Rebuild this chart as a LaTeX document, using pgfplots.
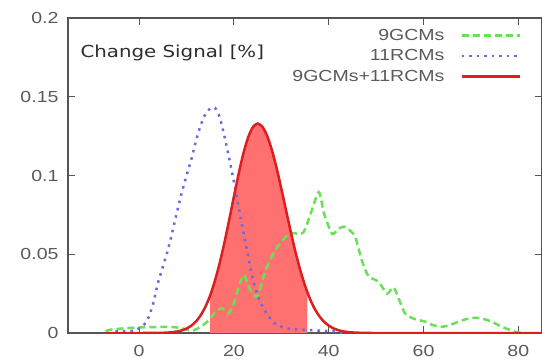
\documentclass[border=0pt]{standalone}
\usepackage{fontspec}
\setmainfont[FakeStretch=1.22]{Liberation Sans}
\newfontfamily\titlefont[FakeStretch=1.2]{DejaVu Sans}
\usepackage{pgfplots}
\pgfplotsset{compat=1.18}
\definecolor{gcm}{RGB}{105,225,85}
\definecolor{rcm}{RGB}{105,105,225}
\definecolor{comb}{RGB}{220,30,30}
\definecolor{combfill}{RGB}{255,112,112}
\definecolor{axisgray}{RGB}{85,85,85}
\definecolor{labelgray}{RGB}{90,90,90}
\definecolor{titlegray}{RGB}{45,45,45}
\begin{document}
\begin{tikzpicture}
\begin{axis}[
  width=474pt, height=315pt, scale only axis,
  xmin=-15, xmax=85, ymin=0, ymax=0.2,
  xtick={0,20,40,60,80},
  ytick={0,0.05,0.1,0.15,0.2},
  yticklabels={0,0.05,0.1,0.15,0.2},
  scaled y ticks=false,
  /pgf/number format/assume math mode=true,
  tick align=inside, major tick length=7pt,
  axis line style={draw=axisgray, line width=1.8pt},
  tick style={draw=axisgray, line width=1pt},
  ticklabel style={font=\fontsize{16}{19}\selectfont, text=labelgray},
  xticklabel style={yshift=-9pt},
  yticklabel style={xshift=-6pt},
  legend plot pos=right,
  legend cell align=right,
  legend image code/.code={\draw[#1] (0pt,0pt) -- (58pt,0pt);},
  legend style={at={(rel axis cs:0.956,0.972)}, anchor=north east, draw=none, fill=none,
    font=\fontsize{16}{19}\selectfont, text=labelgray, inner sep=0pt, row sep=4pt,
    column sep=14pt},
]
% shaded interval
\addplot[draw=none, fill=combfill, forget plot] coordinates {
 (15,0) (15,0.0239) (16,0.0332) (17,0.0444) (18,0.0574) (19,0.0717) (20,0.0866)
 (21,0.1011) (22,0.1140) (23,0.1242) (24,0.1307) (25,0.1330) (26,0.1310) (27,0.1253)
 (28,0.1163) (29,0.1049) (30,0.0917) (31,0.0779) (32,0.0642) (33,0.0514) (34,0.0399)
 (35,0.0301) (35.5,0.026) (35.5,0)
} -- cycle;
% 9GCMs
\addplot[gcm, line width=2.5pt, dash pattern=on 7pt off 4pt, smooth, tension=0.4] coordinates {
 (-7,0.001) (-6.3,0.002) (-3,0.003) (0.7,0.0036) (4,0.0038) (7,0.0038) (9,0.003)
 (11.2,0.0015) (13,0.004) (14.7,0.008) (16,0.013) (17.5,0.0157) (18.9,0.0125)
 (20,0.019) (21,0.029) (22.1,0.037) (23.5,0.027) (24.9,0.023) (25.8,0.031)
 (26.7,0.040) (28.8,0.053) (31.6,0.063) (33.7,0.063) (34.7,0.064) (36,0.074)
 (37.9,0.0895) (39,0.076) (40.7,0.063) (42,0.066) (43.2,0.0675) (44.5,0.065)
 (45.6,0.061) (47,0.046) (48.4,0.036) (50.5,0.0326) (52.3,0.025) (53.7,0.029)
 (55,0.020) (56.1,0.0125) (58,0.009) (60.4,0.0072) (62,0.005) (63.9,0.004)
 (65.5,0.005) (67.4,0.0072) (69,0.0088) (70.9,0.0097) (72.5,0.009) (74.4,0.0072)
 (76.5,0.004) (79.3,0.0008) (81,0.0)
};
\addlegendentry{9GCMs}
% 11RCMs
\addplot[rcm, line width=2.5pt, dash pattern=on 2.5pt off 5pt, smooth, tension=0.4] coordinates {
 (-5,0.001) (-3,0.0012) (-1,0.0015) (0,0.003) (1,0.005) (2,0.01) (3,0.019) (4,0.032)
 (5,0.042) (6,0.052) (7,0.064) (8,0.077) (9,0.089) (10,0.100) (11,0.110) (12,0.122)
 (13,0.132) (14,0.139) (15,0.1425) (16,0.143) (17,0.137) (18,0.125) (19,0.111)
 (20,0.096) (21,0.080) (22,0.064) (23,0.049) (24,0.034) (25,0.024) (26,0.017)
 (27,0.012) (28,0.008) (29,0.005) (30,0.004) (32,0.0025) (35,0.002) (38,0.0015)
 (41,0.001) (43,0)
};
\addlegendentry{11RCMs}
% 9GCMs+11RCMs
\addplot[comb, line width=2.5pt, smooth, tension=0.4] coordinates {
 (-7,0) (0,0) (3,0.00003) (5,0.00014) (6,0.00027) (7,0.00051) (8,0.00094) (9,0.00165)
 (10,0.00281) (11,0.00461) (12,0.00733) (13,0.0113) (14,0.0167) (15,0.0239)
 (16,0.0332) (17,0.0444) (18,0.0574) (19,0.0717) (20,0.0866) (21,0.1011)
 (22,0.1140) (23,0.1242) (24,0.1307) (25,0.1330) (26,0.1310) (27,0.1253)
 (28,0.1163) (29,0.1049) (30,0.0917) (31,0.0779) (32,0.0642) (33,0.0514)
 (34,0.0399) (35,0.0301) (36,0.0220) (37,0.0156) (38,0.0108) (39,0.00722)
 (40,0.00470) (41,0.00296) (42,0.00181) (43,0.00108) (44,0.00062) (45,0.00035)
 (47,0.0001) (50,0) (85,0)
};
\addlegendentry{9GCMs+11RCMs}
\node[anchor=west, font=\titlefont\fontsize{16.5}{19}\selectfont, text=titlegray]
  at (rel axis cs:0.019,0.889) {Change Signal [\%]};
\end{axis}
\pgfresetboundingbox
\path ([shift={(-68pt,-29pt)}]current axis.south west) rectangle ([shift={(0pt,18pt)}]current axis.north east);
\end{tikzpicture}
\end{document}
